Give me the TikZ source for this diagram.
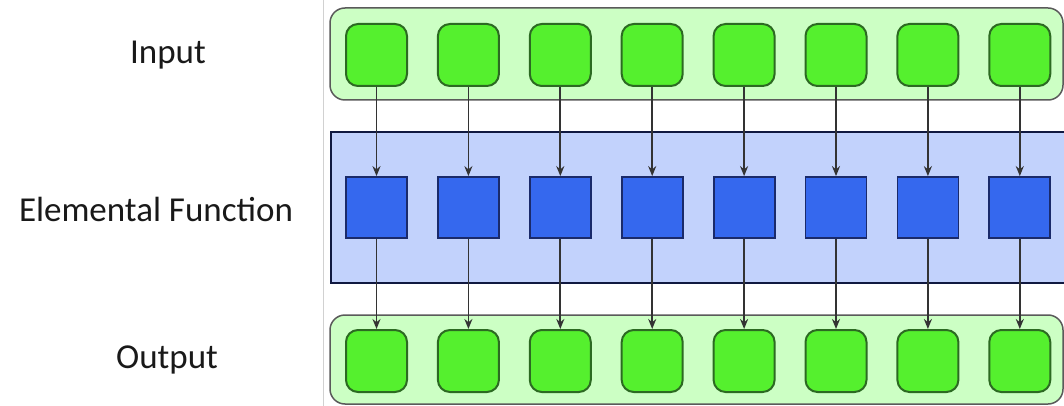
\documentclass[tikz,border=0pt]{standalone}
\usepackage{fontspec}
\setmainfont{Carlito}
\usetikzlibrary{arrows.meta}
\definecolor{panelgreen}{HTML}{CCFFC4}
\definecolor{panelblue}{HTML}{C2D2FC}
\definecolor{cellgreen}{HTML}{55F02E}
\definecolor{cellgreenline}{HTML}{2C6A22}
\definecolor{cellblue}{HTML}{3568EE}
\definecolor{cellblueline}{HTML}{1A2A6A}
\definecolor{panelline}{HTML}{5A5A5A}
\tikzset{
  panel/.style={draw=panelline, line width=1.5pt},
  greenpanel/.style={panel, fill=panelgreen, rounded corners=15pt},
  bluepanel/.style={draw=cellblueline!60!black, line width=1.6pt, fill=panelblue},
  datacell/.style={draw=cellgreenline, line width=2pt, fill=cellgreen,
    rounded corners=12pt, minimum width=61pt, minimum height=62pt, inner sep=0pt},
  funccell/.style={draw=cellblueline, line width=1.8pt, fill=cellblue,
    minimum width=61pt, minimum height=61pt, inner sep=0pt},
  flow/.style={draw=black!80, line width=1.8pt, -{Stealth[length=10pt,width=8pt]}},
  rowlabel/.style={font=\fontsize{35}{38}\selectfont, text=black!90},
}
\begin{document}
\begin{tikzpicture}[x=1pt,y=-1pt]
  \useasboundingbox (0,0) rectangle (1064,406);
  \fill[white] (0,0) rectangle (1064,406);
  % thin frame edge left of the panels
  \draw[black!18, line width=1pt] (323,0) -- (323,406);

  % the three panels
  \path[greenpanel] (330,8) rectangle (1063,100);
  \path[bluepanel] (331,132) rectangle (1066,283);
  \path[greenpanel] (330,315) rectangle (1063,404);

  % row labels
  \node[rowlabel] (lin) at (168,55) {Input};
  \node[rowlabel] (lfn) at (156,209) {Elemental Function};
  \node[rowlabel] (lout) at (167,360) {Output};

  % cells and their connections
  \foreach \i in {0,...,7} {
    \pgfmathsetmacro{\cx}{376.5+91.9*\i}
    \node[datacell] (in\i) at (\cx,55) {};
    \node[funccell] (fn\i) at (\cx,207.5) {};
    \node[datacell] (out\i) at (\cx,361) {};
    \draw[flow] (in\i) -- (fn\i);
    \draw[flow] (fn\i) -- (out\i);
  }
\end{tikzpicture}
\end{document}
